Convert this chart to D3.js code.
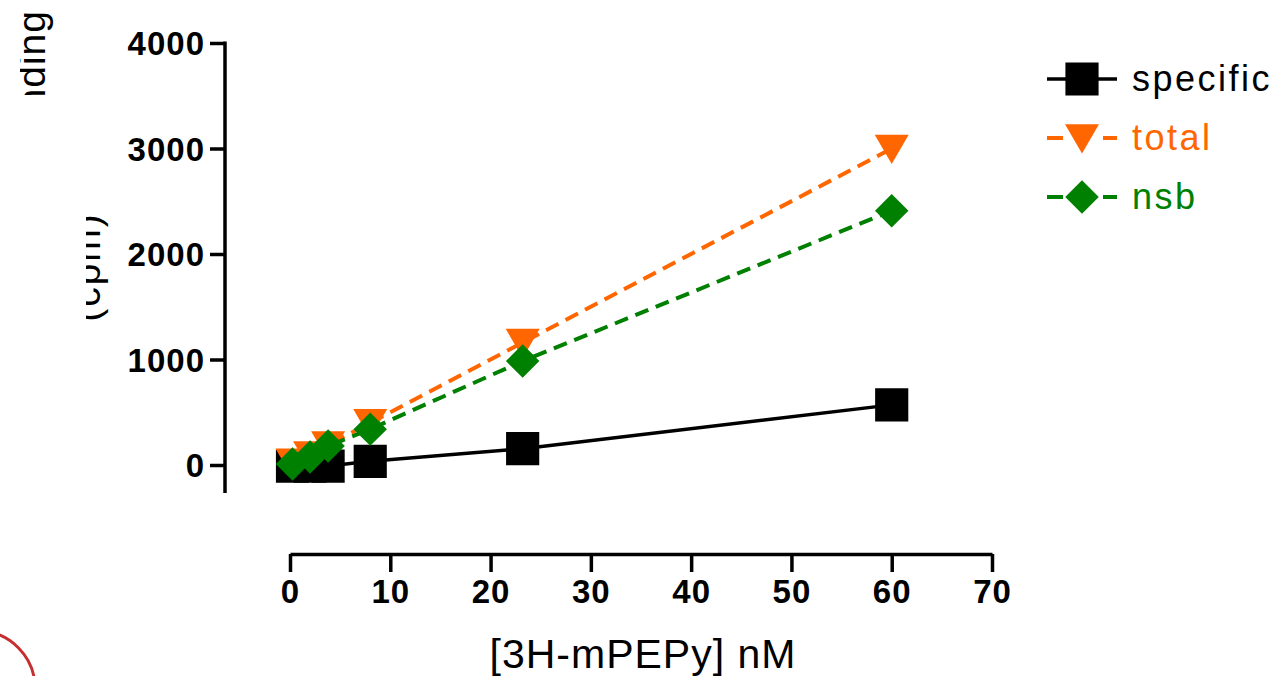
<!DOCTYPE html>
<html>
<head>
<meta charset="utf-8">
<script src="https://cdn.jsdelivr.net/npm/d3@7"></script>
<style>
  body { margin: 0; background: white; }
  text { font-family: 'Liberation Sans', Arial, sans-serif; }
</style>
</head>
<body>
<div id="chart"></div>
<script>
// DATA
const conc = [0.25, 2, 3.8, 8, 23.2, 60];
const specific = [-10, -10, -10, 35, 155, 570];
const total = [25, 95, 190, 400, 1160, 3000];
const nsb = [10, 75, 180, 340, 985, 2410];
const xTicks = [0, 10, 20, 30, 40, 50, 60, 70];
const yTicks = [0, 1000, 2000, 3000, 4000];
const seriesNames = ['specific', 'total', 'nsb'];

width = 1288;
height = 676;

// CREATE SVG
svg = d3
    .select('#chart')
    .append('svg')
    .attr('width', width)
    .attr('height', height);

// SCALES
xScale = d3.scaleLinear().domain([0, 70]).range([290, 992]);
yScale = d3.scaleLinear().domain([0, 4000]).range([465, 43]);

// Y AXIS
yAxis = svg
    .append('g')
    .attr('transform', 'translate(225,0)')
    .call(d3.axisLeft(yScale).tickValues(yTicks).tickFormat(d3.format('d')).tickSize(15).tickPadding(5).tickSizeOuter(0));
yAxis.select('.domain').remove();
yAxis
    .append('line')
    .attr('x1', 0).attr('x2', 0)
    .attr('y1', 41.5).attr('y2', 493)
    .attr('stroke', 'black')
    .attr('stroke-width', 3.5);
yAxis.selectAll('.tick line').attr('stroke-width', 3.5);
yAxis.selectAll('.tick text')
    .attr('fill', 'black')
    .style('font-size', '33px')
    .style('font-weight', 'bold')
    .style('letter-spacing', '1px')
    .attr('dy', '0.36em');

// X AXIS
xAxis = svg
    .append('g')
    .attr('transform', 'translate(0,554)')
    .call(d3.axisBottom(xScale).tickValues(xTicks).tickSize(18).tickPadding(8).tickSizeOuter(0));
xAxis.select('.domain').attr('stroke-width', 3.5);
xAxis.selectAll('.tick line').attr('stroke-width', 3.5);
xAxis.selectAll('.tick text')
    .attr('fill', 'black')
    .style('font-size', '33px')
    .style('font-weight', 'bold')
    .style('letter-spacing', '1px');

// X TITLE
svg
    .append('text')
    .text('[3H-mPEPy] nM')
    .attr('x', 643)
    .attr('y', 668)
    .attr('text-anchor', 'middle')
    .style('font-size', '41px')
    .style('letter-spacing', '1px');

// Y TITLE (PARTLY HIDDEN)
defs = svg.append('defs');
defs.append('clipPath').attr('id', 'clipA')
    .append('rect').attr('x', 20).attr('y', 0).attr('width', 45).attr('height', 95);
defs.append('clipPath').attr('id', 'clipB')
    .append('rect').attr('x', 86).attr('y', 150).attr('width', 40).attr('height', 250);

svg
    .append('g')
    .attr('clip-path', 'url(#clipA)')
    .append('text')
    .text('Binding')
    .attr('text-anchor', 'end')
    .attr('transform', 'translate(45,10)rotate(-90)')
    .style('font-size', '39px')
    .style('letter-spacing', '1px');

svg
    .append('g')
    .attr('clip-path', 'url(#clipB)')
    .append('text')
    .text('(cpm)')
    .attr('text-anchor', 'middle')
    .attr('transform', 'translate(100,267)rotate(-90)')
    .style('font-size', '39px')
    .style('letter-spacing', '2px');

// SERIES
series = [
    { name: 'specific', values: specific, color: '#000000', dash: null, shape: d3.symbolSquare, rot: 0 },
    { name: 'total', values: total, color: '#ff6600', dash: '14,8', shape: d3.symbolTriangle, rot: 180 },
    { name: 'nsb', values: nsb, color: '#008000', dash: '14,8', shape: d3.symbolSquare, rot: 45 }
];
sizes = { specific: 1100, total: 500, nsb: 560 };

line = d3.line()
    .x(d => xScale(d[0]))
    .y(d => yScale(d[1]));

series.forEach(s => {
    pts = conc.map((c, i) => [c, s.values[i]]);
    svg
        .append('path')
        .datum(pts)
        .attr('d', line)
        .attr('fill', 'none')
        .attr('stroke', s.color)
        .attr('stroke-width', s.dash ? 4 : 3.5)
        .attr('stroke-dasharray', s.dash);
    sym = d3.symbol().type(s.shape).size(sizes[s.name]);
    svg
        .selectAll('.m-' + s.name)
        .data(pts)
        .enter()
        .append('path')
        .attr('class', 'm-' + s.name)
        .attr('d', sym)
        .attr('fill', s.color)
        .attr('transform', d => {
            let dy = s.name === 'total' ? -4 : 0;
            return `translate(${xScale(d[0])},${yScale(d[1]) + dy})rotate(${s.rot})`;
        });
});

// LEGEND
legend = svg.append('g');
series.forEach((s, i) => {
    let y = 79 + i * 59;
    legend
        .append('line')
        .attr('x1', 1047).attr('x2', 1117)
        .attr('y1', y).attr('y2', y)
        .attr('stroke', s.color)
        .attr('stroke-width', s.dash ? 4 : 3.5)
        .attr('stroke-dasharray', s.dash ? '16,40,16' : null);
    legend
        .append('path')
        .attr('d', d3.symbol().type(s.shape).size(sizes[s.name])())
        .attr('fill', s.color)
        .attr('transform', `translate(1082,${y + (s.name === 'total' ? -4 : 0)})rotate(${s.rot})`);
    legend
        .append('text')
        .text(seriesNames[i])
        .attr('x', 1132)
        .attr('y', y + 12)
        .attr('fill', s.color)
        .style('font-size', '36px')
        .style('letter-spacing', '2.5px');
});

// RED CIRCLE MARK
svg
    .append('circle')
    .attr('cx', -22)
    .attr('cy', 688)
    .attr('r', 57)
    .attr('fill', 'none')
    .attr('stroke', '#c62f30')
    .attr('stroke-width', 3);
</script>
</body>
</html>
